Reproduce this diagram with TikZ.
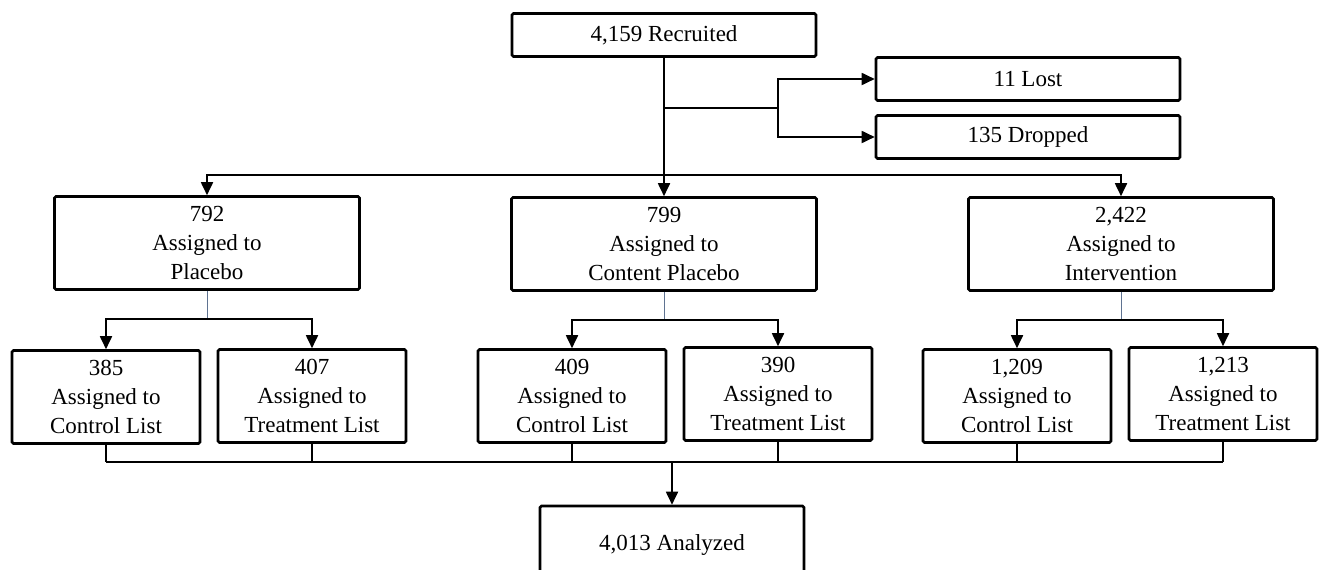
\documentclass[tikz,border=0pt]{standalone}
\usepackage{fontspec}
\setmainfont{Liberation Serif}
\usetikzlibrary{arrows.meta}

\begin{document}
\begin{tikzpicture}[x=1pt,y=-1pt,line width=1.8pt] %% tikz
	\tikzstyle{box}=[draw,line width=2.6pt,rounded corners=1.5pt,inner sep=0pt,align=center,font=\fontsize{23}{29}\selectfont];
	\tikzstyle{wide}=[box,minimum width=304pt,minimum height=43pt];
	\tikzstyle{parent}=[box,minimum width=305pt,minimum height=93pt];
	\tikzstyle{child}=[box,minimum width=188pt,minimum height=93pt];
	\tikzstyle{arr}=[-{Triangle[length=13pt,width=12pt]}];
	\tikzstyle{feed}=[line width=1pt,draw={rgb,255:red,95;green,115;blue,145}];
	\clip (0,0) rectangle (1320,570);
	\fill[white] (0,0) rectangle (1320,570);
	%% boxes
	\node[wide] (rec) at (664,35) {4,159 Recruited};
	\node[wide] (lost) at (1028,79) {11 Lost};
	\node[wide] (drop) at (1028,137) {135 Dropped};
	\node[parent] (pl) at (207,243) {792\\Assigned to\\Placebo};
	\node[parent] (cpl) at (664,244) {799\\Assigned to\\Content Placebo};
	\node[parent] (int) at (1121,244) {2,422\\Assigned to\\Intervention};
	\node[child] (pc) at (106,397) {385\\Assigned to\\Control List};
	\node[child] (pt) at (312,396) {407\\Assigned to\\Treatment List};
	\node[child] (cc) at (572,396) {409\\Assigned to\\Control List};
	\node[child] (ct) at (778,394) {390\\Assigned to\\Treatment List};
	\node[child] (ic) at (1017,396) {1,209\\Assigned to\\Control List};
	\node[child] (it) at (1223,394) {1,213\\Assigned to\\Treatment List};
	\node[box,minimum width=264pt,minimum height=78pt] (ana) at (672,545) {4,013 Analyzed};
	%% recruited
	\coordinate (br) at (664,108);
	\coordinate (brx) at (778,108);
	\coordinate (top) at (664,175);
	\draw[arr] (rec) -- (cpl);
	\draw (br) -- (brx);
	\draw[arr] (brx) |- (lost);
	\draw[arr] (brx) |- (drop);
	\draw[arr] (top) -| (pl);
	\draw[arr] (top) -| (int);
	%% lists
	\foreach \p/\c/\t in {pl/pc/pt,cpl/cc/ct,int/ic/it}{
		\draw[feed] (\p.south) -- ++(0,28) coordinate (\p j);
		\draw[arr] (\p j) -| (\c);
		\draw[arr] (\p j) -| (\t);
	}
	%% analyzed
	\coordinate (bot) at (672,462);
	\foreach \c in {pc,pt,cc,ct,ic,it}
		\draw[line width=1.3pt] (\c.south) -- (\c.south |- bot);
	\draw[line width=1.3pt] (pc.south |- bot) -- (it.south |- bot);
	\draw[arr] (bot) -- (ana);
\end{tikzpicture}
\end{document}
